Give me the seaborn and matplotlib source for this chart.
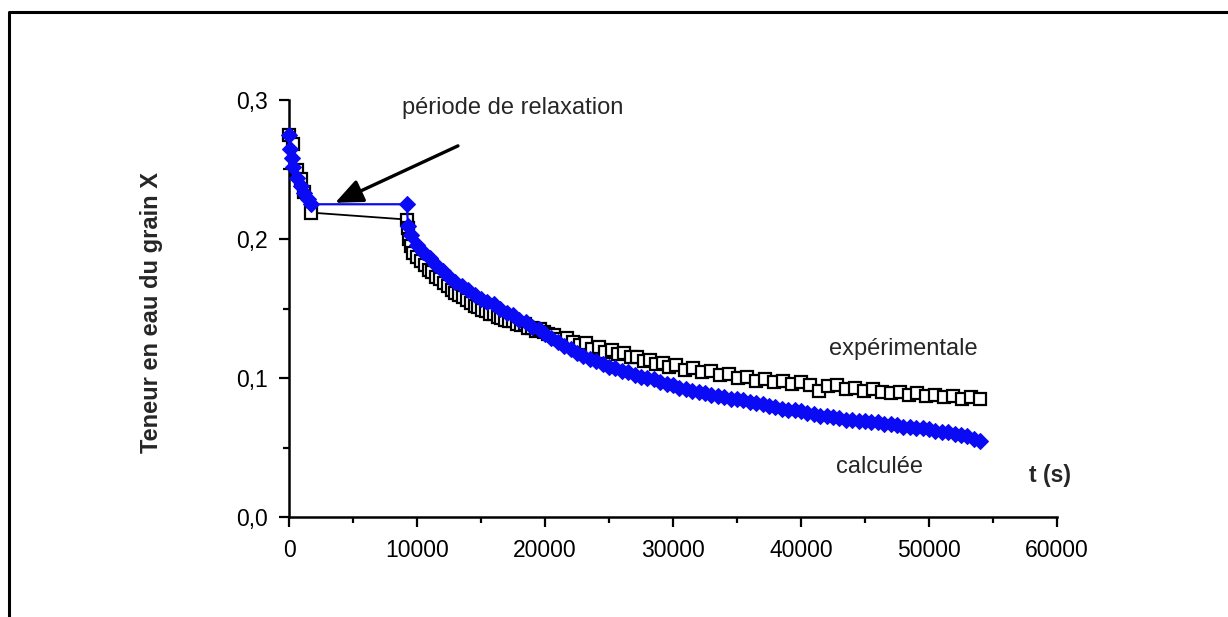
import matplotlib
matplotlib.use("Agg")
import matplotlib.pyplot as plt
from matplotlib.lines import Line2D
from matplotlib.ticker import MultipleLocator, FuncFormatter
import seaborn as sns
import pandas as pd

sns.set_theme(style="white")
plt.rcParams['font.family'] = ['Liberation Sans', 'DejaVu Sans']

# ---- data ----
# experimental (open squares)
t_exp = [0, 300, 600, 900, 1200, 1700,
         9200, 9300, 9400, 9500, 9700,
         10000, 10300, 10600, 10900, 11200, 11500, 11800, 12100, 12400, 12700,
         13000, 13300, 13600, 13900, 14200, 14500, 14800, 15100, 15400, 15700,
         16000, 16300, 16600, 16900, 17200, 17500, 17800, 18100, 18400, 18700,
         19000, 19300, 19600, 19900, 20200,
         20700, 21200, 21700, 22200, 22700, 23200, 23700, 24200, 24700, 25200,
         25700, 26200, 26700, 27200, 27700, 28200, 28700, 29200, 29700, 30200,
         30900, 31600, 32300, 33000, 33700, 34400, 35100, 35800, 36500, 37200,
         37900, 38600, 39300, 40000, 40700, 41400, 42100, 42800, 43500, 44200,
         44900, 45600, 46300, 47000, 47700, 48400, 49100, 49800, 50500, 51200,
         51900, 52600, 53300, 54000]
x_exp = [0.275, 0.268, 0.250, 0.243, 0.234, 0.219,
         0.214, 0.208, 0.200, 0.195, 0.190,
         0.187, 0.184, 0.181, 0.178, 0.176, 0.173, 0.171, 0.168, 0.166, 0.163,
         0.161, 0.160, 0.158, 0.156, 0.154, 0.152, 0.151, 0.149, 0.148, 0.146,
         0.146, 0.144, 0.143, 0.142, 0.141, 0.141, 0.139, 0.138, 0.139, 0.136,
         0.136, 0.134, 0.135, 0.133, 0.132,
         0.131, 0.128, 0.129, 0.126, 0.124, 0.125, 0.121, 0.122, 0.119, 0.120,
         0.117, 0.118, 0.115, 0.115, 0.112, 0.113, 0.110, 0.111, 0.108, 0.109,
         0.106, 0.107, 0.104, 0.105, 0.102, 0.103, 0.100, 0.101, 0.098, 0.099,
         0.097, 0.098, 0.096, 0.097, 0.095, 0.091, 0.094, 0.095, 0.092, 0.093,
         0.091, 0.092, 0.090, 0.089, 0.090, 0.088, 0.089, 0.087, 0.088, 0.086,
         0.087, 0.085, 0.086, 0.085]

# calculated (blue diamonds)
t_calc = [0, 100, 200, 300, 600, 900, 1200, 1500, 1700,
          9200, 9300, 9500,
          10000, 10500, 11000, 11500, 12000, 12500, 13000, 13500, 14000, 14500,
          15000, 15500, 16000, 16500, 17000, 17500, 18000, 18500, 19000, 19500,
          20000, 20500, 21000, 21500, 22000, 22500, 23000, 23500, 24000, 24500,
          25000, 25500, 26000, 26500, 27000, 27500, 28000, 28500, 29000, 29500,
          30000, 30500, 31000, 31500, 32000, 32500, 33000, 33500, 34000, 34500,
          35000, 35500, 36000, 36500, 37000, 37500, 38000, 38500, 39000, 39500,
          40000, 40500, 41000, 41500, 42000, 42500, 43000, 43500, 44000, 44500,
          45000, 45500, 46000, 46500, 47000, 47500, 48000, 48500, 49000, 49500,
          50000, 50500, 51000, 51500, 52000, 52500, 53000, 53500, 54000]
x_calc = [0.275, 0.265, 0.258, 0.252, 0.244, 0.238, 0.233, 0.229, 0.225,
          0.225, 0.209, 0.203,
          0.196, 0.191, 0.186, 0.181, 0.177, 0.173, 0.169, 0.166, 0.163, 0.160,
          0.157, 0.155, 0.153, 0.150, 0.147, 0.145, 0.142, 0.140, 0.137, 0.135,
          0.132, 0.129, 0.126, 0.123, 0.121, 0.118, 0.116, 0.114, 0.112, 0.110,
          0.108, 0.107, 0.105, 0.104, 0.102, 0.101, 0.100, 0.099, 0.097, 0.096,
          0.095, 0.093, 0.092, 0.091, 0.090, 0.089, 0.088, 0.087, 0.086, 0.085,
          0.085, 0.084, 0.083, 0.082, 0.081, 0.080, 0.079, 0.078, 0.077, 0.077,
          0.076, 0.075, 0.074, 0.073, 0.073, 0.072, 0.071, 0.070, 0.070, 0.069,
          0.069, 0.068, 0.068, 0.067, 0.067, 0.066, 0.065, 0.065, 0.064, 0.064,
          0.063, 0.062, 0.061, 0.061, 0.060, 0.059, 0.058, 0.056, 0.055]

x_ticks = [0, 10000, 20000, 30000, 40000, 50000, 60000]
y_ticks = [0.0, 0.1, 0.2, 0.3]

df_exp = pd.DataFrame({"t": t_exp, "X": x_exp})
df_calc = pd.DataFrame({"t": t_calc, "X": x_calc})

# ---- figure ----
W, H = 1228, 617
fig = plt.figure(figsize=(W / 100, H / 100), dpi=100)
fig.patch.set_facecolor("white")
ax = fig.add_axes([289 / W, 1 - 517 / H, (1057 - 289) / W, (517 - 100) / H])
ax.set_facecolor("white")

sns.lineplot(data=df_exp, x="t", y="X", ax=ax, sort=False, estimator=None,
             color="black", linewidth=1.3, marker="s", markersize=8,
             markerfacecolor="white", markeredgecolor="black", markeredgewidth=1.6,
             clip_on=False, zorder=3)
sns.lineplot(data=df_calc, x="t", y="X", ax=ax, sort=False, estimator=None,
             color="#0a0af5", linewidth=1.6, marker="D", markersize=8,
             markerfacecolor="#0a0af5", markeredgecolor="#0a0af5",
             clip_on=False, zorder=4)

ax.set_xlim(0, 60000)
ax.set_ylim(0, 0.3)
ax.set_xticks(x_ticks)
ax.set_yticks(y_ticks)
ax.xaxis.set_minor_locator(MultipleLocator(5000))
ax.yaxis.set_minor_locator(MultipleLocator(0.05))
ax.xaxis.set_major_formatter(FuncFormatter(lambda v, p: f"{int(v)}"))
ax.yaxis.set_major_formatter(FuncFormatter(lambda v, p: f"{v:.1f}".replace(".", ",")))

for s in ["top", "right"]:
    ax.spines[s].set_visible(False)
for s in ["left", "bottom"]:
    ax.spines[s].set_color("black")
    ax.spines[s].set_linewidth(1.8)

ax.tick_params(axis="both", which="major", direction="out", length=7, width=1.6,
               colors="black", labelsize=16.5)
ax.tick_params(axis="both", which="minor", direction="out", length=4, width=1.6,
               colors="black")
ax.tick_params(axis="x", which="major", pad=9)
ax.tick_params(axis="y", which="major", pad=8)
ax.tick_params(axis="both", which="both", bottom=True, left=True)

ax.set_xlabel("")
ax.set_ylabel("Teneur en eau du grain X", fontsize=17, fontweight="bold")
ax.yaxis.set_label_coords(-0.164, 0.49)

ax.text(59450, 0.030, "t (s)", fontsize=16.5, fontweight="bold", ha="center", va="center")
ax.text(17500, 0.294, "période de relaxation", fontsize=17, ha="center", va="center")
ax.text(47970, 0.121, "expérimentale", fontsize=17, ha="center", va="center")
ax.text(46170, 0.036, "calculée", fontsize=17, ha="center", va="center")

ax.annotate("", xy=(3600, 0.226), xytext=(13200, 0.267),
            arrowprops=dict(arrowstyle="-|>,head_length=1.4,head_width=0.6",
                            color="black", lw=2.4, shrinkA=0, shrinkB=0),
            zorder=6)

# outer frame (left and top edges visible)
fig.add_artist(Line2D([8.5 / W, 8.5 / W, 1.0], [0.0, 1 - 12 / H, 1 - 12 / H],
                      transform=fig.transFigure, color="black", linewidth=2.2))

fig.savefig("out.png", dpi=100, facecolor="white")
